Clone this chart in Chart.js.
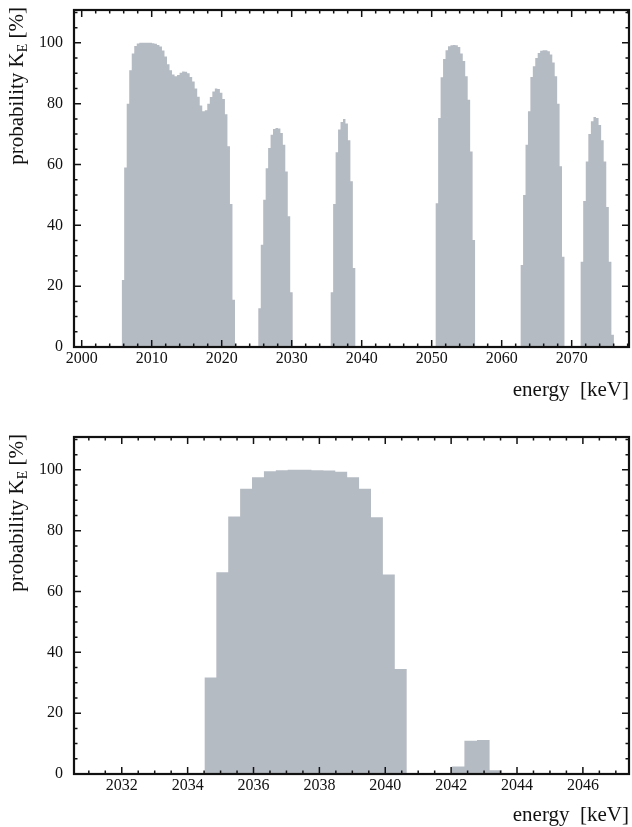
<!DOCTYPE html>
<html>
<head>
<meta charset="utf-8">
<script src="https://cdn.jsdelivr.net/npm/chart.js@4/dist/chart.umd.min.js"></script>
<style>
  body { margin: 0; background: #fff; }
  #wrap { position: relative; width: 632px; height: 827px; }
  canvas { position: absolute; left: 0; }
  #top { top: 0; }
  #bottom { top: 425px; }
</style>
</head>
<body>
<div id="wrap">
  <canvas id="top" width="632" height="425"></canvas>
  <canvas id="bottom" width="632" height="402"></canvas>
</div>
<script>
// --- top panel: full spectrum, one array per peak (bin heights in %) ---
const topStarts = [2005.71, 2025.23, 2035.57, 2050.57, 2062.71, 2071.28];
const topEnds   = [2021.90, 2030.14, 2039.09, 2056.20, 2068.97, 2076.04];
const topPeak1 = [22, 59, 80, 91, 96.5, 99, 99.8, 100, 100, 100, 100, 100, 99.9, 99.7, 99.3,
                  98.8, 97.5, 95.5, 93, 91, 89.6, 89, 89.4, 90.2, 90.6, 90.5, 90, 88.8, 87.3, 85,
                  82.3, 79.4, 77.5, 77.8, 80, 82.2, 84, 85, 84.8, 83.6, 81.5, 76.5, 66, 47, 15.5];
const topPeak2 = [12.7, 33.6, 48.4, 58.8, 65.4, 69.8, 71.7, 72, 71.8, 70.4, 66.5, 57.7, 43, 18];
const topPeak3 = [18, 47, 64, 71.5, 74, 75, 73.5, 68, 54.5, 26];
const topPeak4 = [47.3, 75.3, 88.7, 94.7, 97.6, 98.9, 99.2, 99.3, 99.2, 98.6, 96.5, 94, 89, 81.3, 64.3, 35.2];
const topPeak5 = [27, 50, 66.5, 77.5, 88.8, 92.3, 95, 96.7, 97.4, 97.6, 97.6, 97.2, 96.2, 93.5, 89, 80, 59.4, 29.7];
const topPeak6 = [28, 48, 61, 70, 74.2, 75.6, 75.3, 73, 68, 61, 46, 28, 4];
const topTicks = [2000, 2010, 2020, 2030, 2040, 2050, 2060, 2070];

// --- bottom panel: zoom around 2039 keV ---
const bottomStarts = [2034.51, 2042.02];
const bottomEnds   = [2040.65, 2043.55];
const bottomPeak1 = [31.7, 66.3, 84.7, 93.8, 97.6, 99.5, 99.9, 100, 100, 99.9, 99.8, 99.4, 97.6, 93.8, 84.4, 65.6, 34.5];
const bottomPeak2 = [2.5, 10.9, 11.2, 1.2];
const bottomTicks = [2032, 2034, 2036, 2038, 2040, 2042, 2044, 2046];

const yTicks = [0, 20, 40, 60, 80, 100];

const FILL = '#b5bbc3';
const INK = '#111';
const SERIF = '"Liberation Serif", "DejaVu Serif", serif';

// bin edges -> step points (value held until the next point)
function steps(starts, ends, peaks) {
    const pts = [];
    peaks.forEach((vals, k) => {
        const w = (ends[k] - starts[k]) / vals.length;
        vals.forEach((v, i) => pts.push({ x: starts[k] + i * w, y: v }));
        pts.push({ x: ends[k], y: 0 });
    });
    return pts;
}

// frame with inward ticks on all four sides, plus axis titles
const framePlugin = {
    id: 'frame',
    afterDatasetsDraw(chart, args, opts) {
        const { ctx, chartArea: a, scales: { x, y } } = chart;
        ctx.save();
        ctx.strokeStyle = INK;
        ctx.lineWidth = 1.5;
        ctx.beginPath();
        for (let k = Math.ceil(x.min / opts.xMinor - 1e-9); k * opts.xMinor <= x.max + 1e-9; k++) {
            const v = k * opts.xMinor;
            const px = x.getPixelForValue(v);
            const len = Math.abs(v / opts.xMajor - Math.round(v / opts.xMajor)) < 1e-6 ? 7 : 3.5;
            ctx.moveTo(px, a.bottom); ctx.lineTo(px, a.bottom - len);
            ctx.moveTo(px, a.top); ctx.lineTo(px, a.top + len);
        }
        for (let k = 0; k * 5 <= y.max; k++) {
            const v = k * 5;
            const py = y.getPixelForValue(v);
            const len = v % 20 === 0 ? 7 : 3.5;
            ctx.moveTo(a.left, py); ctx.lineTo(a.left + len, py);
            ctx.moveTo(a.right, py); ctx.lineTo(a.right - len, py);
        }
        ctx.stroke();
        ctx.lineWidth = 2.2;
        ctx.strokeRect(a.left, a.top, a.right - a.left, a.bottom - a.top);

        ctx.fillStyle = INK;
        // x title
        ctx.font = '21px ' + SERIF;
        ctx.textAlign = 'right';
        ctx.textBaseline = 'middle';
        ctx.fillText('energy  [keV]', a.right, opts.xTitleY);

        // y title, rotated, ending at the top of the frame
        ctx.textAlign = 'left';
        ctx.textBaseline = 'alphabetic';
        const big = '21px ' + SERIF, small = '14px ' + SERIF;
        ctx.font = big;
        const w1 = ctx.measureText('probability K').width;
        const w3 = ctx.measureText(' [%]').width;
        ctx.font = small;
        const w2 = ctx.measureText('E').width;
        ctx.translate(23, a.top - 3);
        ctx.rotate(-Math.PI / 2);
        let cx = -(w1 + w2 + w3);
        ctx.font = big;
        ctx.fillText('probability K', cx, 0);
        cx += w1;
        ctx.font = small;
        ctx.fillText('E', cx, 4);
        cx += w2;
        ctx.font = big;
        ctx.fillText(' [%]', cx, 0);
        ctx.restore();
    }
};

function makeChart(id, points, xMin, xMax, ticks, xMajor, xMinor, padTop, axisH) {
    return new Chart(document.getElementById(id), {
        type: 'line',
        data: {
            datasets: [{
                data: points,
                stepped: true,
                fill: 'origin',
                backgroundColor: FILL,
                borderColor: 'rgba(0,0,0,0)',
                borderWidth: 0,
                pointRadius: 0
            }]
        },
        plugins: [framePlugin],
        options: {
            responsive: false,
            animation: false,
            layout: { padding: { top: padTop, right: 3, left: 0, bottom: 0 } },
            plugins: {
                legend: { display: false },
                tooltip: { enabled: false },
                frame: { xMajor: xMajor, xMinor: xMinor, xTitleY: 390 }
            },
            scales: {
                x: {
                    type: 'linear',
                    min: xMin,
                    max: xMax,
                    grid: { display: false, drawTicks: false },
                    border: { display: false },
                    afterBuildTicks: s => { s.ticks = ticks.map(v => ({ value: v })); },
                    afterFit: s => { s.height = axisH; s.paddingLeft = 0; s.paddingRight = 0; },
                    ticks: {
                        font: { family: SERIF, size: 16 },
                        color: INK,
                        padding: 2,
                        maxRotation: 0,
                        autoSkip: false,
                        callback: v => String(v)
                    }
                },
                y: {
                    min: 0,
                    max: 110.8,
                    grid: { display: false, drawTicks: false },
                    border: { display: false },
                    afterBuildTicks: s => { s.ticks = yTicks.map(v => ({ value: v })); },
                    afterFit: s => { s.width = 74; s.paddingTop = 0; s.paddingBottom = 0; },
                    ticks: {
                        font: { family: SERIF, size: 16 },
                        color: INK,
                        padding: 11,
                        callback: v => String(v)
                    }
                }
            }
        }
    });
}

makeChart('top', steps(topStarts, topEnds, [topPeak1, topPeak2, topPeak3, topPeak4, topPeak5, topPeak6]),
    1998.9, 2078.19, topTicks, 10, 2, 10, 78);
makeChart('bottom', steps(bottomStarts, bottomEnds, [bottomPeak1, bottomPeak2]),
    2030.55, 2047.4, bottomTicks, 2, 0.5, 12, 53);
</script>
</body>
</html>
